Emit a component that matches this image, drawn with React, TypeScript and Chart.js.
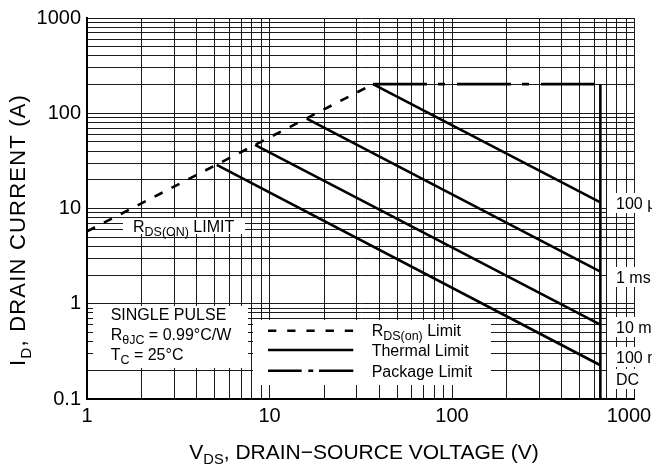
import React, { useEffect, useRef } from 'react';
import { Chart, registerables } from 'chart.js';

Chart.register(...registerables);

// ---------- data ----------
const xGridValues = [1, 2, 3, 4, 5, 6, 7, 8, 9, 10, 20, 30, 40, 50, 60, 70, 80, 90, 100, 200, 300, 400, 500, 600, 700, 800, 900, 1000];
const yGridValues = [0.1, 0.2, 0.3, 0.4, 0.5, 0.6, 0.7, 0.8, 0.9, 1, 2, 3, 4, 5, 6, 7, 8, 9, 10, 20, 30, 40, 50, 60, 70, 80, 90, 100, 200, 300, 400, 500, 600, 700, 800, 900, 1000];
const xTickLabels = ['1', '10', '100', '1000  '];
const yTickLabels = ['0.1', '1', '10', '100', '1000'];

// R_DS(on) limit
const rdsV = [1, 36.9];
const rdsI = [5.75, 202];
// package limit
const pkgV = [36.9, 650];
const pkgI = [202, 202];
// breakdown (vertical) limit
const bvV = [650, 650];
const bvI = [202, 0.1];
// thermal limits
const t100usV = [36.9, 650];
const t100usI = [202, 11.6];
const t1msV = [16.0, 650];
const t1msI = [88, 2.17];
const t10msV = [8.33, 650];
const t10msI = [46.5, 0.604];
const t100msV = [5.14, 650];
const t100msI = [28.7, 0.226];

const pulseLabels = ['100 µs', '1 ms', '10 ms', '100 ms', 'DC'];
const pulseLabelY = [203, 277, 327, 357, 379];

const FONT = "'Liberation Sans', Arial, Helvetica, sans-serif";

const zip = (xs: number[], ys: number[]) => xs.map((x, i) => ({ x, y: ys[i] }));
const isDecade = (v: number) => {
  const l = Math.log10(v);
  return Math.abs(l - Math.round(l)) < 1e-9;
};

type Seg = { t: string; sub?: boolean };

function drawRich(ctx: CanvasRenderingContext2D, x: number, baseline: number, segs: Seg[], size: number, measureOnly = false, subScale = 0.7) {
  let cx = x;
  for (const s of segs) {
    const sz = s.sub ? size * subScale : size;
    ctx.font = `${sz}px ${FONT}`;
    const w = ctx.measureText(s.t).width;
    if (!measureOnly) ctx.fillText(s.t, cx, baseline + (s.sub ? size * 0.27 : 0));
    cx += w;
  }
  return cx - x;
}

const annotPlugin = {
  id: 'annot',
  beforeDatasetsDraw(chart: any) {
    const ctx: CanvasRenderingContext2D = chart.ctx;
    ctx.save();
    ctx.fillStyle = '#fff';
    ctx.fillRect(93, 306, 155, 62);
    ctx.fillRect(253, 320, 238, 65);
    ctx.fillRect(123, 218, 122, 16);
    for (const yc of pulseLabelY) ctx.fillRect(607, yc - 10, 120, 20);
    ctx.restore();
  },
  afterDatasetsDraw(chart: any) {
    const ctx: CanvasRenderingContext2D = chart.ctx;
    ctx.save();
    ctx.fillStyle = '#000';
    ctx.textAlign = 'left';
    ctx.textBaseline = 'alphabetic';
    const fs = 16;
    const cap = fs * 0.36;
    const ss = 0.78;

    // condition box
    drawRich(ctx, 110.7, 314 + cap, [{ t: 'SINGLE PULSE' }], fs, false, ss);
    drawRich(ctx, 110.7, 334 + cap, [{ t: 'R' }, { t: 'θJC', sub: true }, { t: ' = 0.99°C/W' }], fs, false, ss);
    drawRich(ctx, 110.7, 354 + cap, [{ t: 'T' }, { t: 'C', sub: true }, { t: ' = 25°C' }], fs, false, ss);

    // RDS(ON) LIMIT label
    drawRich(ctx, 133, 226 + cap, [{ t: 'R' }, { t: 'DS(ON)', sub: true }, { t: ' LIMIT' }], fs, false, ss);

    // legend samples
    ctx.strokeStyle = '#000';
    ctx.lineWidth = 2.5;
    ctx.lineCap = 'butt';
    ctx.setLineDash([8.3, 10.9]);
    ctx.beginPath();
    ctx.moveTo(268, 330.7);
    ctx.lineTo(353.3, 330.7);
    ctx.stroke();
    ctx.setLineDash([]);
    ctx.beginPath();
    ctx.moveTo(268, 350);
    ctx.lineTo(353.3, 350);
    ctx.stroke();
    ctx.setLineDash([33.7, 6.6, 5, 5.7, 40]);
    ctx.beginPath();
    ctx.moveTo(268, 370.7);
    ctx.lineTo(353.3, 370.7);
    ctx.stroke();
    ctx.setLineDash([]);

    drawRich(ctx, 371.7, 330 + cap, [{ t: 'R' }, { t: 'DS(on)', sub: true }, { t: ' Limit' }], fs, false, ss);
    drawRich(ctx, 371.7, 350 + cap, [{ t: 'Thermal Limit' }], fs, false, ss);
    drawRich(ctx, 371.7, 371 + cap, [{ t: 'Package Limit' }], fs, false, ss);

    // pulse labels
    pulseLabels.forEach((lbl, i) => {
      drawRich(ctx, 616, pulseLabelY[i] + cap, [{ t: lbl }], fs, false, ss);
    });

    // axis titles
    const tfs = 21;
    const xTitle: Seg[] = [{ t: 'V' }, { t: 'DS', sub: true }, { t: ', DRAIN−SOURCE VOLTAGE (V)' }];
    const wx = drawRich(ctx, 0, 0, xTitle, tfs, true);
    drawRich(ctx, 364 - wx / 2, 451 + tfs * 0.36, xTitle, tfs);

    const yfs = 22;
    (ctx as any).letterSpacing = '1.2px';
    const yTitle: Seg[] = [{ t: 'I' }, { t: 'D', sub: true }, { t: ', DRAIN CURRENT (A)' }];
    const wy = drawRich(ctx, 0, 0, yTitle, yfs, true);
    ctx.translate(17.5, 230);
    ctx.rotate(-Math.PI / 2);
    drawRich(ctx, -wy / 2, yfs * 0.36, yTitle, yfs);
    (ctx as any).letterSpacing = '0px';
    ctx.restore();
  },
};

export default function App() {
  const ref = useRef<HTMLCanvasElement>(null);

  useEffect(() => {
    document.body.style.margin = '0';
    const lineBase = {
      showLine: true,
      pointRadius: 0,
      borderColor: '#000',
      borderWidth: 2.6,
      fill: false,
      tension: 0,
    };
    const chart = new Chart(ref.current as HTMLCanvasElement, {
      type: 'scatter',
      data: {
        datasets: [
          { ...lineBase, label: 'RDS(on) Limit', data: zip(rdsV, rdsI), borderDash: [9, 10] },
          { ...lineBase, label: 'Package Limit', data: zip(pkgV, pkgI), borderDash: [54, 11, 7, 12] },
          { ...lineBase, label: 'BVDSS', data: zip(bvV, bvI) },
          { ...lineBase, label: '100 µs', data: zip(t100usV, t100usI) },
          { ...lineBase, label: '1 ms', data: zip(t1msV, t1msI) },
          { ...lineBase, label: '10 ms', data: zip(t10msV, t10msI) },
          { ...lineBase, label: '100 ms', data: zip(t100msV, t100msI) },
        ] as any,
      },
      options: {
        responsive: false,
        animation: false,
        devicePixelRatio: 1,
        layout: { padding: { left: 0, top: 15, right: 65.5, bottom: 0 } },
        plugins: { legend: { display: false }, tooltip: { enabled: false } },
        events: [],
        scales: {
          x: {
            type: 'logarithmic',
            min: 1,
            max: 1000,
            afterBuildTicks: (scale: any) => {
              scale.ticks = xGridValues.map((v) => ({ value: v }));
            },
            afterFit: (scale: any) => {
              scale.height = 72;
            },
            ticks: {
              autoSkip: false,
              maxRotation: 0,
              padding: 5,
              color: '#000',
              font: { family: FONT, size: 20 },
              callback: (v: any) => {
                const n = Number(v);
                if (!isDecade(n)) return '';
                const idx = Math.round(Math.log10(n));
                return xTickLabels[idx];
              },
            },
            grid: { color: '#1a1a1a', lineWidth: 1, drawTicks: false },
            border: { display: true, color: '#000', width: 2 },
          },
          y: {
            type: 'logarithmic',
            min: 0.1,
            max: 1000,
            afterBuildTicks: (scale: any) => {
              scale.ticks = yGridValues.map((v) => ({ value: v }));
            },
            afterFit: (scale: any) => {
              scale.width = 87;
            },
            ticks: {
              autoSkip: false,
              padding: 6,
              color: '#000',
              font: { family: FONT, size: 20 },
              callback: (v: any) => {
                const n = Number(v);
                if (!isDecade(n)) return '';
                const idx = Math.round(Math.log10(n)) + 1;
                return yTickLabels[idx];
              },
            },
            grid: { color: '#1a1a1a', lineWidth: 1, drawTicks: false },
            border: { display: true, color: '#000', width: 2 },
          },
        },
      } as any,
      plugins: [annotPlugin],
    });
    return () => chart.destroy();
  }, []);

  return (
    <div style={{ width: 652, height: 471, overflow: 'hidden', position: 'relative', background: '#fff' }}>
      <canvas ref={ref} width={700} height={471} style={{ display: 'block' }} />
    </div>
  );
}
